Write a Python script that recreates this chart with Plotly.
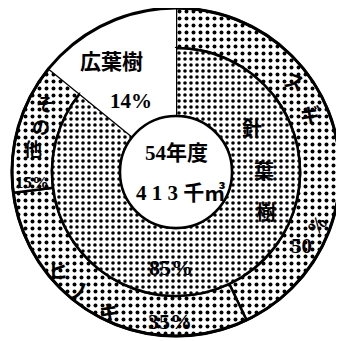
import plotly.graph_objects as go

# 54年度 素材生産量の内訳 (413千㎥)
inner_labels = ["針葉樹", "広葉樹"]
inner_values = [85, 14]            # % of total
conifer_labels = ["スギ", "ヒノキ", "その他"]
conifer_shares = [50, 35, 15]      # % of 針葉樹

# the page body has an 8px default margin, so the figure is drawn 8px in
PAD = 8
W, H = 344 - PAD, 341 - PAD
CX, CY = 176, 172                  # pie centre in window pixels
R_OUT, R_MID, R_HOLE = 164, 124, 56


def px(x):
    return (x - PAD) / W


def py(y):
    return 1 - (y - PAD) / H


def dom(r):
    return dict(x=[max(0, px(CX - r)), min(1, px(CX + r))],
                y=[max(0, py(CY + r)), min(1, py(CY - r))])


# outer ring: conifer species scaled to their share of the whole, plus 広葉樹
outer_labels = conifer_labels + ["広葉樹"]
outer_values = [s * inner_values[0] / 100 for s in conifer_shares] + [inner_values[1]]

fig = go.Figure()
fig.add_trace(go.Pie(
    labels=outer_labels, values=outer_values, sort=False, direction="clockwise",
    hole=R_MID / R_OUT, domain=dom(R_OUT), textinfo="none", hoverinfo="label+value",
    marker=dict(colors=["white"] * 4,
                pattern=dict(shape=[".", ".", ".", ""], size=7, solidity=0.25,
                             fgcolor="black", bgcolor="white", fillmode="replace"),
                line=dict(color="black", width=[2.5, 2.5, 2.5, 0])),
))
fig.add_trace(go.Pie(
    labels=inner_labels, values=inner_values, sort=False, direction="clockwise",
    hole=R_HOLE / R_MID, domain=dom(R_MID), textinfo="none", hoverinfo="label+value",
    marker=dict(colors=["white", "white"],
                pattern=dict(shape=[".", ""], size=6, solidity=0.28,
                             fgcolor="black", bgcolor="white", fillmode="replace"),
                line=dict(color="black", width=[2.5, 0])),
))
# outline rings: full outer edge and the centre hole
fig.add_trace(go.Pie(values=[1], domain=dom(R_OUT), textinfo="none", hoverinfo="skip",
                     marker=dict(colors=["rgba(0,0,0,0)"], line=dict(color="black", width=3))))
fig.add_trace(go.Pie(values=[1], domain=dom(R_HOLE), textinfo="none", hoverinfo="skip",
                     marker=dict(colors=["white"], line=dict(color="black", width=2.5))))

FONT = "Liberation Serif, Noto Sans CJK JP"
texts = [
    ("広葉樹", 111, 62, 21, 0),
    ("14%", 131, 101, 21, 0),
    ("54年度", 176, 153, 21, 0),
    ("4 1 3 千㎥", 180, 193, 21, 0),
    ("針", 252, 129, 20, 0),
    ("葉", 264, 172, 20, 0),
    ("樹", 266, 213, 20, 0),
    ("85%", 171, 267, 22, 0),
    ("ス", 294, 82, 20, 20),
    ("ギ", 310, 116, 20, 0),
    ("%", 317, 225, 20, -50),
    ("50", 301, 246, 21, 0),
    ("ヒ", 58, 271, 20, 0),
    ("ノ", 79, 292, 20, 0),
    ("キ", 109, 313, 20, 0),
    ("35%", 170, 321, 22, 0),
    ("そ", 45, 105, 18, 0),
    ("の", 41, 128, 18, 0),
    ("他", 33, 150, 18, 0),
    ("15%", 32, 182, 17, 0),
]
for t, x, y, s, a in texts:
    fig.add_annotation(text=t, x=px(x), y=py(y), xref="paper", yref="paper",
                       xanchor="center", yanchor="middle", showarrow=False, textangle=a,
                       borderpad=0, font=dict(family=FONT, size=s, color="black", weight="bold"))

fig.update_layout(width=W, height=H, margin=dict(l=0, r=0, t=0, b=0),
                  paper_bgcolor="white", plot_bgcolor="white", showlegend=False)
fig.write_html("out.html")
